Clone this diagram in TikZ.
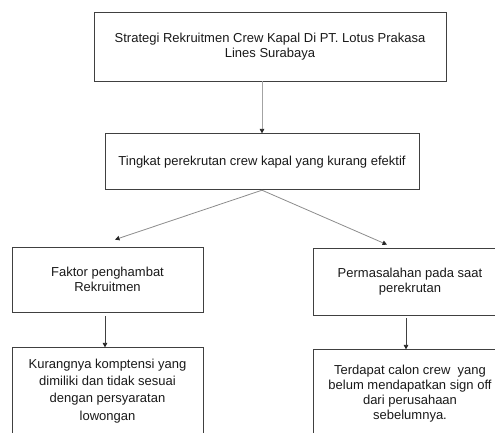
\documentclass[tikz,border=0pt]{standalone}
\usepackage{fontspec}
\setmainfont{Liberation Sans}
\usetikzlibrary{positioning,arrows.meta}
\definecolor{garis}{gray}{0.25}
\definecolor{panah}{gray}{0.55}
\begin{document}
\begin{tikzpicture}[x=1pt, y=1pt, node distance={40pt}, line width=0.8pt,
    main/.style = {draw=garis, rectangle, align=center, inner sep=0pt,
        font=\fontsize{13}{14.5}\selectfont, text=black!90},
    tip/.style = {-{Triangle[length=4.5pt,width=4.5pt,color=black!85]}}]
    \useasboundingbox (0,0) rectangle (495,-432);
    \node[main, minimum width=352pt, minimum height=69pt] (strat) at (270,-46.5)
        {Strategi Rekruitmen Crew Kapal Di PT. Lotus Prakasa\\Lines Surabaya};
    \node[main, minimum width=314pt, minimum height=56pt] (tingkat) [below=52pt of strat, xshift=-8pt]
        {Tingkat perekrutan crew kapal yang kurang efektif};
    \node[main, minimum width=191pt, minimum height=65pt] (faktor) at (107.5,-279.5)
        {Faktor penghambat\\Rekruitmen};
    \node[main, minimum width=194pt, minimum height=67pt] (masalah) at (410,-281.5)
        {Permasalahan pada saat\\perekrutan};
    \node[main, minimum width=191pt, minimum height=86pt, font=\fontsize{13}{17.3}\selectfont] (kurang) [below=35pt of faktor]
        {Kurangnya komptensi yang\\dimiliki dan tidak sesuai\\dengan persyaratan\\lowongan};
    \node[main, minimum width=194pt, minimum height=88pt, font=\fontsize{13}{15}\selectfont] (calon) [below=34pt of masalah]
        {Terdapat calon crew\ \ yang\\belum mendapatkan sign off\\dari perusahaan\\sebelumnya.};

    \coordinate (kiri) at ([xshift=7.5pt,yshift=7pt]faktor.north);
    \coordinate (kanan) at ([xshift=-23pt,yshift=3pt]masalah.north);

    \draw[tip, draw=panah!80] (strat.south -| tingkat.north) -- (tingkat.north);
    \draw[tip, draw=panah] (tingkat.south) -- (kiri);
    \draw[tip, draw=panah] (tingkat.south) -- (kanan);
    \draw[tip, draw=garis] ([xshift=-2.5pt,yshift=-4pt]faktor.south) -- ([xshift=-2.5pt]kurang.north);
    \draw[tip, draw=garis] ([xshift=-4pt,yshift=-3pt]masalah.south) -- ([xshift=-4pt]calon.north);
\end{tikzpicture}
\end{document}
